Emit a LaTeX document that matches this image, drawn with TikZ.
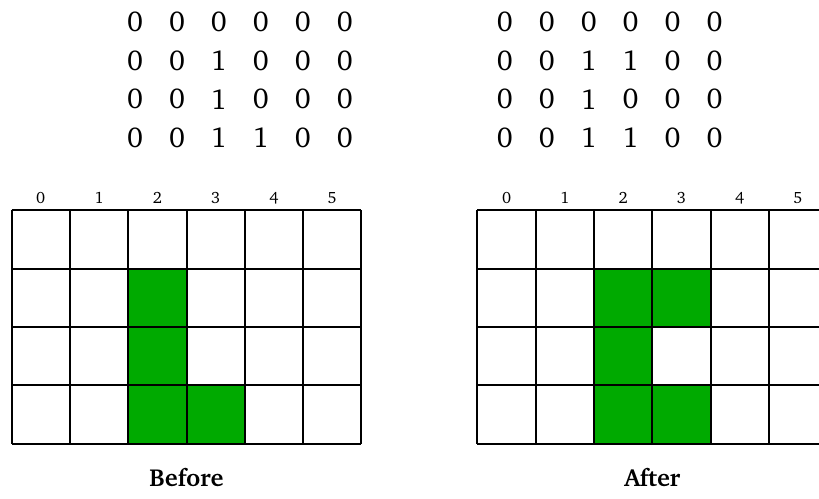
\documentclass[tikz,border=0pt]{standalone}
\usepackage[T1]{fontenc}
\usepackage{charter}
\usepackage{xcolor}
\usepackage{tikz,pgffor}
\definecolor{cellgreen}{RGB}{0,170,0}
\tikzset{
  gridline/.style={line width=1pt},
  collabel/.style={font=\fontsize{8}{9}\selectfont},
  entry/.style={font=\fontsize{14}{16}\selectfont},
  caption/.style={font=\fontsize{12}{14}\selectfont\bfseries}
}
% #1 name, #2 x of left edge, #3 filled cells col/row
\newcommand{\cellgrid}[3]{%
  \begin{scope}[shift={(#2,0.95)}]
  \foreach \c/\r in {#3} {%
    \fill[cellgreen] (\c,3-\r) rectangle ++(1,1);
  }
  \draw[gridline] (0,0) grid (6,4);
  \foreach \i in {0,...,5} {%
    \node[collabel] (#1-col\i) at (\i+0.5,4.21) {\i};
  }
  \end{scope}
}
% #1 name, #2 x of first column, #3 rows
\newcommand{\bitmatrix}[3]{%
  \foreach \row [count=\y] in {#3} {%
    \foreach \v [count=\x] in \row {%
      \node[entry] (#1-\y-\x) at (#2+0.72*\x-0.72,8.85-0.665*\y) {\v};
    }
  }
}

\begin{document}
\begin{tikzpicture}
   \useasboundingbox (0,0) rectangle (14.05,8.56);
   \bitmatrix{mbefore}{2.316}{{0,0,0,0,0,0},{0,0,1,0,0,0},{0,0,1,0,0,0},{0,0,1,1,0,0}}
   \bitmatrix{mafter}{8.66}{{0,0,0,0,0,0},{0,0,1,1,0,0},{0,0,1,0,0,0},{0,0,1,1,0,0}}
   \cellgrid{gbefore}{0.2}{2/1,2/2,2/3,3/3}
   \cellgrid{gafter}{8.19}{2/1,3/1,2/2,2/3,3/3}
   \node[caption] (before) at (3.2,0.377) {Before};
   \node[caption] (after) at (11.19,0.377) {After};
\end{tikzpicture}
\end{document}
